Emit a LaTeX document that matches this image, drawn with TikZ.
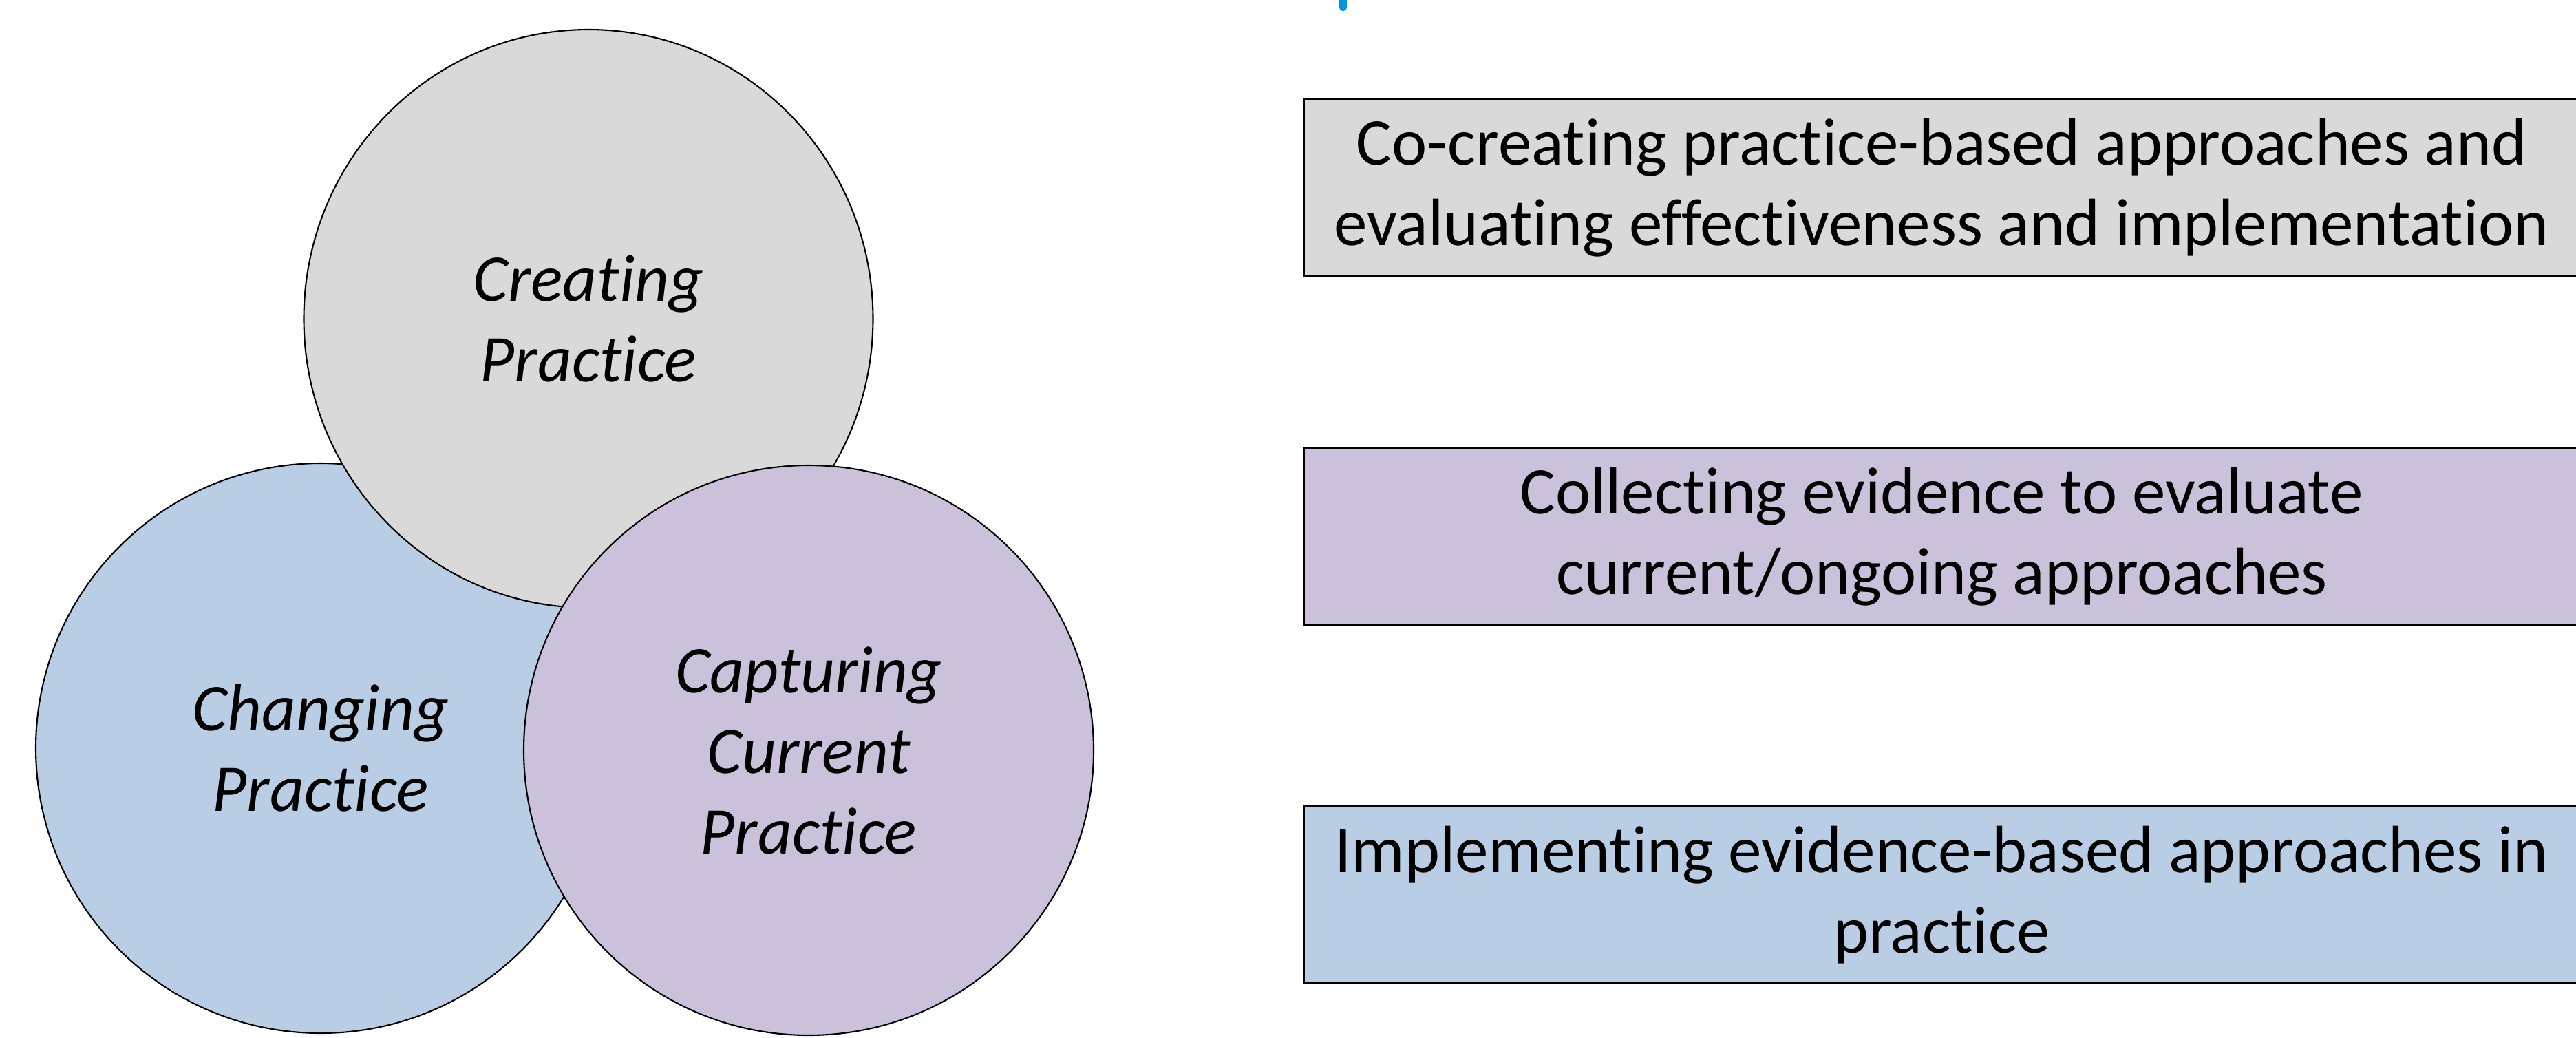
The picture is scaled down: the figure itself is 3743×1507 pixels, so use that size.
\documentclass[tikz,border=0pt]{standalone}
\usepackage{fontspec}
\setmainfont{Carlito}[Ligatures=NoCommon]
\usepackage{tikz}
\usetikzlibrary{shapes.geometric,positioning}
\definecolor{greyfill}{HTML}{D9D9D9}
\definecolor{bluefill}{HTML}{B9CDE5}
\definecolor{purplefill}{HTML}{CCC1DA}
\definecolor{titleblue}{HTML}{0096D6}

\begin{document}
\begin{tikzpicture}
    [   x=0.1mm, y=-0.1mm,
        bubble/.style = {ellipse, draw, line width=0.6pt, inner sep=0pt, align=center,
                         font=\fontsize{27.6}{33.3}\selectfont\itshape},
        textbox/.style = {rectangle, draw, line width=0.7pt, anchor=north west,
                          inner sep=0pt, minimum width=185.2mm, minimum height=25.7mm,
                          align=center, font=\fontsize{27.6}{33.3}\selectfont}
    ]
    \useasboundingbox (0,0) rectangle (3743,1507);
    % Title (cut off)
    \fill[titleblue,rounded corners=0.5mm] (1946,-10) rectangle (1957,16);
    % Circles
    \node[bubble,fill=bluefill,minimum width=82.8mm,minimum height=82.8mm]
        (changing) at (466,1087) {Changing\\Practice};
    \node[bubble,fill=greyfill,minimum width=82.7mm,minimum height=84mm]
        (creating) at (855,463) {Creating\\Practice};
    \node[bubble,fill=purplefill,minimum width=82.8mm,minimum height=82.8mm]
        (capturing) at (1175,1090) {Capturing\\Current\\Practice};
    % Boxes
    \node[textbox,fill=greyfill] (cocreating) at (1894,143)
        {Co-creating practice-based approaches and\\evaluating effectiveness and implementation};
    \node[textbox,fill=purplefill] (collecting) at (1894,650)
        {Collecting evidence to evaluate\\current/ongoing approaches};
    \node[textbox,fill=bluefill] (implementing) at (1894,1170)
        {Implementing evidence-based approaches in\\practice};
\end{tikzpicture}
\end{document}
